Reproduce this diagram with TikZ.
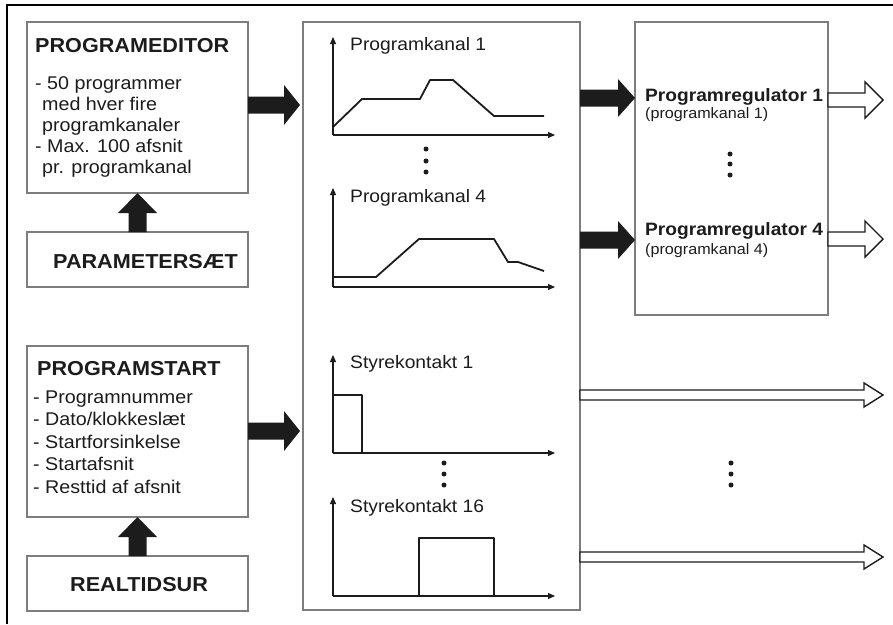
\documentclass[tikz,border=0pt]{standalone}
\usepackage{fontspec}
\setmainfont{Liberation Sans}[FakeStretch=1.07]
\usetikzlibrary{calc,arrows.meta}
\definecolor{boxgray}{RGB}{125,125,125}
\definecolor{ink}{RGB}{28,28,28}
\newcommand{\hfat}[6]{%
  \path[#1] let \p1=#2, \p2=#3 in
   (\x1,\y1+#4) -- (\x2-#6,\y1+#4) -- (\x2-#6,\y1+#5) -- (\x2,\y1) --
   (\x2-#6,\y1-#5) -- (\x2-#6,\y1-#4) -- (\x1,\y1-#4) -- cycle;}
\newcommand{\vfat}[6]{%
  \path[#1] let \p1=#2, \p2=#3 in
   (\x1-#4,\y1) -- (\x1-#4,\y2-#6) -- (\x1-#5,\y2-#6) -- (\x1,\y2) --
   (\x1+#5,\y2-#6) -- (\x1+#4,\y2-#6) -- (\x1+#4,\y1) -- cycle;}
\tikzset{
  blk/.style={draw=boxgray, line width=1.2pt, fill=white, inner sep=0pt, outer sep=0pt},
  ttl/.style={font=\bfseries\fontsize{20.2}{24}\selectfont, text=ink, anchor=base west, inner sep=0pt},
  txt/.style={font=\fontsize{18.4}{22}\selectfont, text=ink, anchor=base west, inner sep=0pt},
  gtxt/.style={font=\fontsize{18}{22}\selectfont, text=ink, anchor=base west, inner sep=0pt},
  rtt/.style={font=\bfseries\fontsize{17.9}{22}\selectfont, text=ink, anchor=base west, inner sep=0pt},
  rst/.style={font=\fontsize{15.1}{18}\selectfont, text=ink, anchor=base west, inner sep=0pt},
  fatblack/.style={fill=ink},
  hollow/.style={draw=ink, fill=white, line width=1.4pt, line join=miter},
  axis/.style={draw=ink, line width=1.1pt, -{Triangle[length=7pt,width=6pt]}},
  curve/.style={draw=ink, line width=1.8pt, line join=round},
  dot/.style={fill=ink}
}
\begin{document}
\begin{tikzpicture}[x=1pt,y=-1pt]
\useasboundingbox (0,0) rectangle (893,624);
% outer frame (top and left)
\draw[line width=2.5pt, black] (7,624) -- (7,5) -- (893,5);

% boxes
\node[blk, minimum width=221pt, minimum height=171pt] (ed)  at (137.5,107.5) {};
\node[blk, minimum width=221pt, minimum height=55pt]  (par) at (137.5,259.5) {};
\node[blk, minimum width=221pt, minimum height=171pt] (ps)  at (137.5,431.5) {};
\node[blk, minimum width=221pt, minimum height=55pt]  (rt)  at (137.5,583.5) {};
\node[blk, minimum width=277pt, minimum height=588pt] (mid) at (441.5,316) {};
\node[blk, minimum width=193pt, minimum height=293pt] (reg) at (731.5,168.5) {};

% left texts
\node[ttl] (t1) at (35,52) {PROGRAMEDITOR};
\node[txt] (t1a) at (35,89) {- 50 programmer};
\node[txt] (t1b) at (42,110) {med hver fire};
\node[txt] (t1c) at (42,131) {programkanaler};
\node[txt] (t1d) at (35,152) {- Max. 100 afsnit};
\node[txt] (t1e) at (42,173) {pr. programkanal};
\node[ttl] (t2) at (53,268) {PARAMETERSÆT};
\node[ttl] (t3) at (37,375) {PROGRAMSTART};
\node[txt] (t3a) at (33,403) {- Programnummer};
\node[txt] (t3b) at (33,425.5) {- Dato/klokkeslæt};
\node[txt] (t3c) at (33,448) {- Startforsinkelse};
\node[txt] (t3d) at (33,470.5) {- Startafsnit};
\node[txt] (t3e) at (33,493) {- Resttid af afsnit};
\node[ttl] (t4) at (70,591) {REALTIDSUR};

% graph labels
\node[gtxt] (g1) at (350,50) {Programkanal 1};
\node[gtxt] (g4) at (350,202) {Programkanal 4};
\node[gtxt] (s1) at (350,368) {Styrekontakt 1};
\node[gtxt] (s16) at (350,512) {Styrekontakt 16};

% regulator texts
\node[rtt] (r1) at (645,101) {Programregulator 1};
\node[rst] (r1s) at (645,118) {(programkanal 1)};
\node[rtt] (r4) at (645,235) {Programregulator 4};
\node[rst] (r4s) at (645,254) {(programkanal 4)};

% graph 1
\draw[axis] (333,135) -- (333,37);
\draw[axis] (333,135) -- (555,135);
\draw[curve] (333,127) -- (362,99) -- (420,99) -- (430,80) -- (453,80) -- (494,116) -- (544,116);
% graph 4
\draw[axis] (333,287) -- (333,188);
\draw[axis] (333,287) -- (555,287);
\draw[curve] (333,277) -- (376,277) -- (419,239) -- (494,239) -- (508,262) -- (518,262) -- (544,271);
% styrekontakt 1
\draw[axis] (333,453) -- (333,355);
\draw[axis] (333,453) -- (555,453);
\draw[curve] (333,453) -- (333,395) -- (362,395) -- (362,453);
% styrekontakt 16
\draw[axis] (333,596) -- (333,497);
\draw[axis] (333,596) -- (555,596);
\draw[curve] (419,596) -- (419,538) -- (494,538) -- (494,596);

% dots
\foreach \yy in {149,161,172} \fill[dot] (426,\yy) circle (2.5pt);
\foreach \yy in {463,474,485} \fill[dot] (444,\yy) circle (2.5pt);
\foreach \yy in {154,164,175} \fill[dot] (730,\yy) circle (2.5pt);
\foreach \yy in {463,474,485} \fill[dot] (731,\yy) circle (2.5pt);

% black block arrows
\vfat{fatblack}{(par.north)}{(ed.south)}{9pt}{19.5pt}{20pt}
\vfat{fatblack}{(rt.north)}{(ps.south)}{9pt}{19.5pt}{20pt}
\hfat{fatblack}{(ed.east |- 0,105)}{($(mid.west |- 0,105)+(-3,0)$)}{8.5pt}{20pt}{16pt}
\hfat{fatblack}{(ps.east |- 0,431)}{($(mid.west |- 0,431)+(-3,0)$)}{8.5pt}{20pt}{16pt}
\hfat{fatblack}{(mid.east |- 0,98)}{(reg.west |- 0,98)}{8.5pt}{19pt}{17pt}
\hfat{fatblack}{(mid.east |- 0,240)}{(reg.west |- 0,240)}{8.5pt}{19pt}{17pt}

% hollow output arrows
\coordinate (o1) at (883,100);
\coordinate (o4) at (883,239);
\coordinate (o5) at (883,395);
\coordinate (o6) at (883,557);
\hfat{hollow}{(reg.east |- o1)}{(o1)}{7pt}{18pt}{18pt}
\hfat{hollow}{(reg.east |- o4)}{(o4)}{7pt}{18pt}{18pt}
\hfat{hollow}{(mid.east |- o5)}{(o5)}{5pt}{12pt}{19pt}
\hfat{hollow}{(mid.east |- o6)}{(o6)}{5pt}{12pt}{19pt}
\end{tikzpicture}
\end{document}
